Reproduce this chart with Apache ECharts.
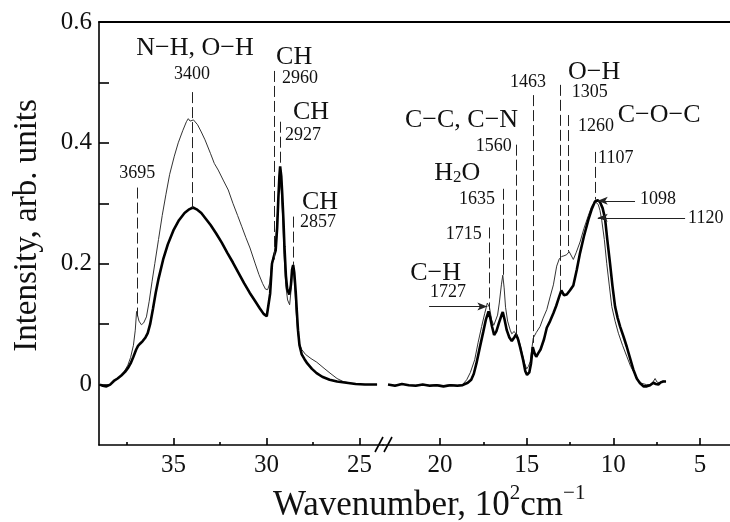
<!DOCTYPE html>
<html>
<head>
<meta charset="utf-8">
<script src="https://cdn.jsdelivr.net/npm/echarts@6/dist/echarts.min.js"></script>
<style>
  html, body { margin: 0; padding: 0; background: #fff; }
  #main { width: 730px; height: 522px; }
</style>
</head>
<body>
<div id="main"></div>
<script>
// wavenumber (10^2 cm^-1), intensity
var thickLeft = [[38.95,0.0],[38.8,-0.002],[38.6,-0.003],[38.4,0.0],[38.2,0.006],[38.0,0.01],[37.8,0.015],[37.6,0.021],[37.45,0.027],[37.3,0.035],[37.15,0.046],[37.0,0.058],[36.9,0.064],[36.78,0.068],[36.65,0.072],[36.5,0.078],[36.38,0.085],[36.25,0.1],[36.1,0.125],[35.95,0.152],[35.8,0.175],[35.55,0.207],[35.3,0.232],[35.0,0.255],[34.7,0.272],[34.4,0.284],[34.15,0.29],[33.95,0.293],[33.75,0.29],[33.5,0.284],[33.25,0.274],[33.0,0.264],[32.7,0.25],[32.4,0.235],[32.1,0.218],[31.8,0.202],[31.5,0.185],[31.2,0.168],[30.9,0.152],[30.6,0.138],[30.35,0.126],[30.15,0.117],[29.98,0.113],[29.88,0.116],[29.8,0.15],[29.7,0.2],[29.6,0.212],[29.5,0.222],[29.42,0.26],[29.36,0.306],[29.3,0.345],[29.26,0.361],[29.2,0.345],[29.15,0.317],[29.08,0.27],[29.03,0.229],[28.95,0.18],[28.88,0.158],[28.77,0.149],[28.68,0.165],[28.62,0.19],[28.56,0.198],[28.5,0.185],[28.42,0.152],[28.36,0.12],[28.3,0.09],[28.22,0.065],[28.1,0.05],[27.95,0.042],[27.8,0.035],[27.55,0.026],[27.3,0.019],[27.0,0.013],[26.6,0.008],[26.2,0.005],[25.7,0.003],[25.2,0.001],[24.7,0.0],[24.05,0.0]];
var thinLeft = [[38.95,0.0],[38.8,-0.002],[38.6,-0.003],[38.4,0.0],[38.2,0.006],[38.0,0.01],[37.8,0.016],[37.6,0.024],[37.45,0.032],[37.3,0.045],[37.15,0.065],[37.05,0.09],[36.98,0.121],[36.93,0.115],[36.85,0.105],[36.72,0.099],[36.6,0.102],[36.45,0.112],[36.3,0.138],[36.15,0.17],[36.0,0.2],[35.8,0.24],[35.6,0.28],[35.4,0.315],[35.2,0.348],[34.95,0.378],[34.74,0.4],[34.5,0.42],[34.3,0.435],[34.2,0.44],[34.1,0.436],[34.02,0.433],[33.92,0.438],[33.84,0.44],[33.7,0.43],[33.5,0.418],[33.3,0.405],[33.0,0.382],[32.8,0.366],[32.59,0.355],[32.3,0.337],[32.05,0.322],[31.8,0.3],[31.55,0.28],[31.33,0.262],[31.1,0.243],[30.88,0.226],[30.61,0.201],[30.4,0.182],[30.2,0.167],[30.05,0.158],[29.93,0.157],[29.82,0.168],[29.72,0.2],[29.62,0.212],[29.52,0.228],[29.42,0.275],[29.34,0.32],[29.27,0.335],[29.2,0.32],[29.12,0.275],[29.05,0.215],[28.96,0.165],[28.86,0.14],[28.75,0.132],[28.66,0.16],[28.6,0.195],[28.54,0.19],[28.47,0.16],[28.4,0.12],[28.32,0.088],[28.22,0.068],[28.1,0.058],[27.9,0.05],[27.6,0.043],[27.29,0.037],[26.9,0.027],[26.58,0.019],[26.2,0.01],[25.87,0.005],[25.4,0.002],[24.8,0.0],[24.05,0.0]];
var thickRight = [[23.0,0.0],[22.6,-0.002],[22.2,0.001],[21.8,-0.001],[21.4,-0.002],[21.0,0.0],[20.6,-0.002],[20.2,-0.001],[19.8,-0.003],[19.4,-0.001],[19.0,-0.002],[18.7,-0.001],[18.4,0.003],[18.2,0.008],[18.05,0.018],[17.9,0.035],[17.7,0.062],[17.5,0.088],[17.35,0.108],[17.2,0.121],[17.1,0.11],[17.0,0.096],[16.88,0.082],[16.75,0.088],[16.6,0.102],[16.45,0.115],[16.38,0.12],[16.28,0.108],[16.15,0.09],[16.0,0.078],[15.86,0.072],[15.72,0.078],[15.61,0.083],[15.5,0.075],[15.38,0.062],[15.2,0.04],[15.08,0.022],[14.98,0.016],[14.85,0.02],[14.75,0.035],[14.65,0.062],[14.55,0.052],[14.45,0.046],[14.33,0.052],[14.2,0.058],[14.0,0.075],[13.84,0.094],[13.65,0.105],[13.46,0.118],[13.3,0.13],[13.12,0.146],[13.0,0.156],[12.85,0.148],[12.69,0.149],[12.5,0.156],[12.31,0.164],[12.11,0.19],[11.92,0.218],[11.7,0.245],[11.44,0.273],[11.25,0.29],[11.06,0.303],[10.9,0.305],[10.77,0.302],[10.62,0.292],[10.48,0.275],[10.35,0.24],[10.19,0.2],[10.05,0.163],[9.9,0.129],[9.75,0.11],[9.61,0.096],[9.42,0.08],[9.23,0.063],[9.05,0.045],[8.85,0.025],[8.65,0.01],[8.46,0.002],[8.25,-0.003],[8.07,-0.003],[7.88,-0.001],[7.69,0.003],[7.55,0.001],[7.4,0.0],[7.25,0.004],[7.11,0.005],[6.96,0.005]];
var thinRight = [[23.0,0.0],[22.6,-0.001],[22.2,0.001],[21.8,-0.001],[21.4,-0.001],[21.0,0.0],[20.6,-0.001],[20.2,0.0],[19.8,-0.002],[19.4,0.0],[19.0,-0.001],[18.7,0.0],[18.46,0.008],[18.25,0.02],[18.0,0.041],[17.8,0.07],[17.6,0.096],[17.42,0.118],[17.27,0.135],[17.15,0.128],[17.02,0.107],[16.9,0.098],[16.8,0.098],[16.68,0.115],[16.58,0.135],[16.46,0.165],[16.38,0.181],[16.3,0.16],[16.22,0.128],[16.1,0.105],[15.95,0.09],[15.86,0.084],[15.72,0.088],[15.61,0.09],[15.5,0.078],[15.38,0.066],[15.25,0.05],[15.12,0.035],[15.0,0.026],[14.9,0.03],[14.8,0.038],[14.7,0.06],[14.62,0.077],[14.45,0.086],[14.23,0.096],[14.05,0.11],[13.84,0.124],[13.65,0.145],[13.46,0.165],[13.27,0.196],[13.12,0.208],[12.98,0.212],[12.85,0.213],[12.69,0.215],[12.55,0.22],[12.45,0.222],[12.31,0.207],[12.15,0.218],[11.92,0.236],[11.7,0.258],[11.44,0.28],[11.25,0.295],[11.06,0.303],[10.95,0.302],[10.87,0.298],[10.77,0.288],[10.67,0.272],[10.52,0.24],[10.38,0.2],[10.23,0.163],[10.09,0.129],[9.9,0.105],[9.71,0.085],[9.47,0.065],[9.23,0.047],[9.0,0.03],[8.75,0.017],[8.55,0.007],[8.36,0.002],[8.1,0.0],[7.88,0.0],[7.72,0.004],[7.59,0.01],[7.48,0.004],[7.31,0.003],[7.15,0.006],[6.96,0.005]];

// axis ticks / labels
var leftMajor = [25, 30, 35];
var leftMinor = [27.5, 32.5, 37.5];
var rightMajor = [5, 10, 15, 20];
var rightMinor = [7.5, 12.5, 17.5];
var yTicks = [0, 0.1, 0.2, 0.3, 0.4, 0.5, 0.6];
var yLabels = [0, 0.2, 0.4, 0.6];

// dashed band markers: [wavenumber, top, bottom]
var leftLines = [[36.95,0.326,0.113],[34.0,0.484,0.292],[29.6,0.519,0.207],[29.27,0.435,0.364],[28.55,0.278,0.198]];
var rightLines = [[17.15,0.26,0.124],[16.35,0.324,0.179],[15.6,0.397,0.08],[14.63,0.479,0.069],[13.05,0.496,0.155],[12.6,0.446,0.22],[11.07,0.385,0.306]];
// arrows: [from, to, intensity]
var rightArrows = [[20.63,17.27,0.129],[8.75,10.9,0.304],[5.86,10.9,0.276]];
// labels: [text, wavenumber, intensity, align]
var leftNumbers = [['3695',36.95,0.35,'center'],['3400',34.0,0.514,'center'],['2960',29.16,0.507,'left'],['2927',29.0,0.412,'left'],['2857',28.19,0.269,'left']];
var leftGroups = [['N\u2212H, O\u2212H',33.84,0.557,'center'],['CH',29.48,0.542,'left'],['CH',28.57,0.45,'left'],['CH',28.09,0.302,'left']];
var rightNumbers = [['1727',19.54,0.152,'center'],['1715',17.59,0.248,'right'],['1635',16.83,0.306,'right'],['1560',15.86,0.395,'right'],['1463',14.92,0.5,'center'],['1305',12.4,0.484,'left'],['1260',12.04,0.428,'left'],['1107',10.88,0.374,'left'],['1098',8.46,0.306,'left'],['1120',5.69,0.276,'left']];
var rightGroups = [['C\u2212H',20.26,0.185,'center'],['H{s|2}O',19.0,0.35,'center'],['C\u2212C, C\u2212N',18.76,0.438,'center'],['O\u2212H',11.11,0.517,'center'],['C\u2212O\u2212C',7.36,0.446,'center']];

var serif = 'Liberation Serif';
var ink = '#111';
var chart = echarts.init(document.getElementById('main'));

function dashLines(list) {
    return list.map(function (l) {
        return [{ coord: [l[0], l[1]] }, { coord: [l[0], l[2]] }];
    });
}
function arrowLines(list) {
    return list.map(function (a) {
        return [
            { coord: [a[0], a[2]], symbol: 'none', lineStyle: { type: 'solid', color: '#222', width: 1 } },
            { coord: [a[1], a[2]], symbol: 'arrow', symbolSize: [6, 10] }
        ];
    });
}
function labelItems(list, size) {
    return list.map(function (a) {
        return {
            value: [a[1], a[2]],
            label: { formatter: a[0], align: a[3], fontSize: size }
        };
    });
}
function textSeries(xi, data) {
    return {
        type: 'scatter', xAxisIndex: xi, yAxisIndex: xi === 0 ? 0 : 1,
        symbolSize: 0, silent: true, z: 5,
        itemStyle: { opacity: 1 },
        label: {
            show: true, position: 'inside', color: ink, fontFamily: serif,
            textBorderWidth: 0, opacity: 1,
            rich: { s: { fontSize: 17, fontFamily: serif, color: ink, verticalAlign: 'bottom', lineHeight: 16 } }
        },
        data: data
    };
}
function bottomAxis(grid, min, max, ticks, labels, len, line) {
    return {
        type: 'value', gridIndex: grid, position: 'bottom', inverse: true,
        min: min, max: max,
        splitLine: { show: false },
        axisLine: { show: line, onZero: false, lineStyle: { color: '#000', width: 1.6 } },
        axisTick: { show: true, inside: true, length: len, customValues: ticks, lineStyle: { color: '#000', width: 1.6 } },
        axisLabel: {
            show: labels.length > 0, customValues: labels, margin: 8,
            fontFamily: serif, fontSize: 25, color: ink
        }
    };
}
function topAxis(grid, min, max) {
    return {
        type: 'value', gridIndex: grid, position: 'top', inverse: true, min: min, max: max,
        splitLine: { show: false }, axisTick: { show: false }, axisLabel: { show: false },
        axisLine: { show: true, onZero: false, lineStyle: { color: '#000', width: 1.8 } }
    };
}

var option = {
    animation: false,
    backgroundColor: '#fff',
    title: {
        text: '{a|Wavenumber, 10}{s|2}{a|cm}{s|\u22121}',
        left: 273, top: 483, padding: 0,
        textStyle: {
            rich: {
                a: { fontFamily: serif, fontSize: 35, fontWeight: 'normal', color: ink, lineHeight: 46 },
                s: { fontFamily: serif, fontSize: 21, fontWeight: 'normal', color: ink, lineHeight: 21, verticalAlign: 'top' }
            }
        }
    },
    grid: [
        { left: 99, top: 22, width: 284, bottom: 77 },
        { left: 383, top: 22, right: 0, bottom: 77 }
    ],
    xAxis: [
        bottomAxis(0, 23.73, 39, leftMajor, leftMajor, 7, true),
        bottomAxis(0, 23.73, 39, leftMinor, [], 3, false),
        topAxis(0, 23.73, 39),
        bottomAxis(1, 3.27, 23.29, rightMajor, rightMajor, 7, true),
        bottomAxis(1, 3.27, 23.29, rightMinor, [], 3, false),
        topAxis(1, 3.27, 23.29)
    ],
    yAxis: [
        {
            type: 'value', gridIndex: 0, min: -0.1, max: 0.6,
            name: 'Intensity, arb. units', nameLocation: 'middle', nameGap: 55,
            nameTextStyle: { fontFamily: serif, fontSize: 33, color: ink, padding: [0, 0, 0, 16] },
            splitLine: { show: false },
            axisLine: { show: true, onZero: false, lineStyle: { color: '#000', width: 1.6 } },
            axisTick: { show: true, inside: true, length: 10, customValues: yTicks, lineStyle: { color: '#000', width: 1.6 } },
            axisLabel: {
                customValues: yLabels, margin: 7, fontFamily: serif, fontSize: 25, color: ink,
                formatter: function (v) { return v === 0 ? '0' : v.toFixed(1); }
            }
        },
        {
            type: 'value', gridIndex: 1, min: -0.1, max: 0.6, show: false, splitLine: { show: false }
        }
    ],
    series: [
        {
            type: 'line', xAxisIndex: 0, yAxisIndex: 0, data: thinLeft, showSymbol: false,
            lineStyle: { color: '#333', width: 1 }, silent: true,
            markLine: {
                silent: true, symbol: ['none', 'none'], label: { show: false },
                lineStyle: { type: [11, 4], color: '#222', width: 1 },
                data: dashLines(leftLines)
            }
        },
        {
            type: 'line', xAxisIndex: 0, yAxisIndex: 0, data: thickLeft, showSymbol: false,
            lineStyle: { color: '#000', width: 2.6 }, silent: true
        },
        {
            type: 'line', xAxisIndex: 3, yAxisIndex: 1, data: thinRight, showSymbol: false,
            lineStyle: { color: '#333', width: 1 }, silent: true,
            markLine: {
                silent: true, symbol: ['none', 'none'], label: { show: false },
                lineStyle: { type: [11, 4], color: '#222', width: 1 },
                data: dashLines(rightLines).concat(arrowLines(rightArrows))
            }
        },
        {
            type: 'line', xAxisIndex: 3, yAxisIndex: 1, data: thickRight, showSymbol: false,
            lineStyle: { color: '#000', width: 2.6 }, silent: true
        },
        textSeries(0, labelItems(leftNumbers, 18).concat(labelItems(leftGroups, 26))),
        textSeries(3, labelItems(rightNumbers, 18).concat(labelItems(rightGroups, 26)))
    ],
    graphic: [
        // axis break marks
        { type: 'line', shape: { x1: 375, y1: 452, x2: 383, y2: 437 }, style: { stroke: '#000', lineWidth: 1.6 } },
        { type: 'line', shape: { x1: 384, y1: 452, x2: 392, y2: 437 }, style: { stroke: '#000', lineWidth: 1.6 } }
    ]
};

chart.setOption(option);

window.onresize = function () {
    chart.resize();
};
</script>
</body>
</html>
